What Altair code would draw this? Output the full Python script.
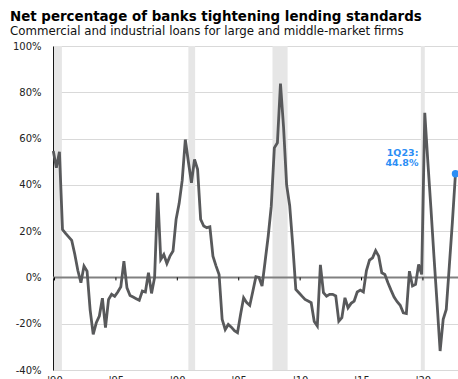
import altair as alt
import pandas as pd

# ---- data (net % of banks tightening C&I standards, large & middle-market firms) ----
start_year = 1990
start_quarter = 2
values = [
    54.6, 47.4, 54.3, 20.7, 19.0, 17.5, 16.0, 10.0, 3.0, -2.3,
    4.9, 2.7, -14.0, -24.6, -19.6, -16.7, -9.0, -21.7, -9.5, -7.3,
    -8.2, -6.3, -4.0, 7.0, -4.5, -7.8, -8.5, -9.2, -9.9, -5.9,
    -6.3, 2.0, -6.9, 0.0, 36.6, 7.8, 9.9, 6.0, 9.2, 11.4,
    25.1, 32.0, 42.0, 59.6, 50.0, 40.9, 51.0, 46.7, 25.1, 22.2,
    21.5, 21.9, 9.2, 5.0, 1.3, -18.1, -22.5, -20.3, -21.5, -23.0,
    -23.9, -16.0, -8.8, -10.9, -12.1, -6.0, 0.3, 0.0, -3.7, 7.0,
    17.8, 30.8, 56.0, 58.2, 83.8, 65.0, 40.0, 31.0, 14.0, -5.2,
    -6.6, -8.1, -9.5, -10.2, -10.9, -19.0, -21.0, 5.4, -6.6, -8.1,
    -7.3, -7.3, -8.0, -18.9, -17.4, -8.8, -13.1, -11.2, -10.2, -6.3,
    -5.5, -6.3, 3.0, 7.5, 8.5, 11.6, 9.2, 2.0, 1.3, -2.3,
    -5.5, -8.5, -10.5, -12.0, -15.3, -15.6, 2.7, -3.7, -3.0, 5.6,
    1.3, 71.1, 50.0, 30.0, 9.0, -11.0, -31.8, -18.1, -13.8, 5.0,
    24.0, 44.8,
]
last_label = "1Q23"

recession_start = [1990.3, 2001.25, 2008.1, 2020.18]
recession_end = [1990.95, 2001.8, 2009.33, 2020.5]

tick_years = [1990, 1995, 2000, 2005, 2010, 2015, 2020]
y_ticks = [-40, -20, 0, 20, 40, 60, 80, 100]

# ---- tables ----
t = [start_year + (start_quarter - 1) / 4 + i / 4 for i in range(len(values))]
df = pd.DataFrame({"t": t, "v": values})
rec = pd.DataFrame({"s": recession_start, "e": recession_end})
tick_pos = [y + 0.35 for y in tick_years]
ticks = pd.DataFrame({"t": tick_pos, "y0": [0] * len(tick_pos), "y1": [-1.3] * len(tick_pos)})
last = pd.DataFrame({"t": [t[-1]], "v": [values[-1]],
                     "label": [f"{last_label}:\n{values[-1]}%"]})
zero = pd.DataFrame({"z": [0]})

FONT = "DejaVu Sans"
BLUE = "#2b8ef5"

xscale = alt.Scale(domain=[1990.226, 2023.206], nice=False, zero=False)
yscale = alt.Scale(domain=[-40, 100], nice=False, zero=False)

x_axis = alt.Axis(
    values=tick_pos,
    labelExpr="\"'\" + substring(toString(floor(datum.value)), 2, 4)",
    domain=False, ticks=False, grid=False, title=None,
    labelFont=FONT, labelFontSize=10, labelColor="#222", labelPadding=5,
)
y_axis = alt.Axis(
    values=y_ticks, labelExpr="datum.value + '%'",
    grid=True, gridColor="#d9d9d9", gridWidth=1,
    domain=True, domainColor="#000", domainWidth=1,
    ticks=False, labelPadding=12, title=None,
    labelFont=FONT, labelFontSize=10, labelColor="#222",
)

X = lambda f: alt.X(f, scale=xscale, axis=x_axis)
Y = lambda f: alt.Y(f, scale=yscale, axis=y_axis)

bands = alt.Chart(rec).mark_rect(color="#e6e6e6").encode(
    x=X("s:Q"), x2="e:Q"
)
zero_line = alt.Chart(zero).mark_rule(color="#808080", strokeWidth=2).encode(
    y=Y("z:Q")
)
tick_marks = alt.Chart(ticks).mark_rule(color="#000", strokeWidth=1).encode(
    x=X("t:Q"), y=Y("y0:Q"), y2="y1:Q"
)
line = alt.Chart(df).mark_line(color="#58595b", strokeWidth=2.8).encode(
    x=X("t:Q"), y=Y("v:Q"),
)
point = alt.Chart(last).mark_circle(color=BLUE, size=55, opacity=1).encode(
    x=X("t:Q"), y=Y("v:Q"),
)
label = alt.Chart(last).mark_text(
    align="right", baseline="middle", dx=-37, dy=-21, lineBreak="\n",
    font=FONT, fontSize=9.5, fontWeight="bold", color=BLUE, lineHeight=10,
).encode(
    x=X("t:Q"), y=Y("v:Q"), text="label:N",
)

chart = alt.layer(bands, zero_line, tick_marks, line, point, label).properties(
    width=405, height=324,
    autosize="none",
    padding={"left": 53, "top": 46, "right": 0, "bottom": 9},
    title=alt.TitleParams(
        text="Net percentage of banks tightening lending standards",
        subtitle="Commercial and industrial loans for large and middle-market firms",
        anchor="start", frame="group", dx=-43, offset=3,
        font=FONT, fontSize=13.4, fontWeight="bold", color="#000",
        subtitleFont=FONT, subtitleFontSize=11.8, subtitleColor="#111",
        subtitlePadding=3,
    ),
).configure_view(stroke=None)

chart.save("out.html", embed_options={"renderer": "svg", "actions": False})
